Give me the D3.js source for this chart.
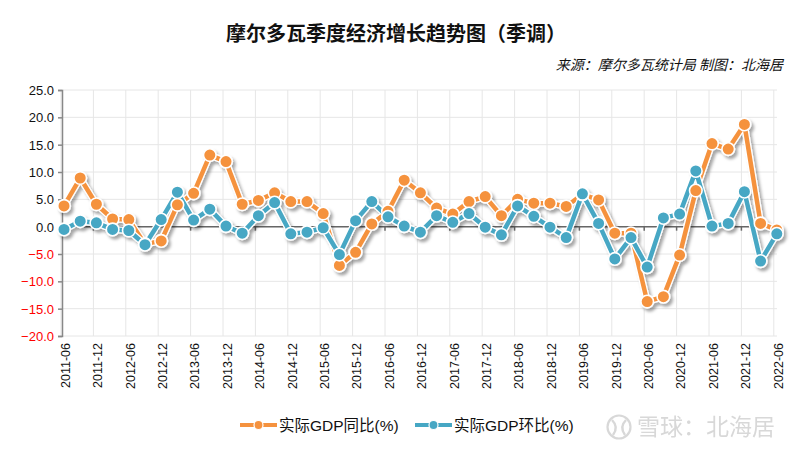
<!DOCTYPE html>
<html><head><meta charset="utf-8">
<script src="https://cdn.jsdelivr.net/npm/d3@7/dist/d3.min.js"></script>
<style>
body{margin:0;background:#fff;}
svg{display:block;font-family:"Liberation Sans",Arial,"Noto Sans CJK SC",sans-serif;}
</style></head>
<body><svg id="c" width="800" height="450"></svg>
<script>
const quarters = ["2011-06","2011-09","2011-12","2012-03","2012-06","2012-09","2012-12","2013-03","2013-06","2013-09","2013-12",
"2014-03","2014-06","2014-09","2014-12","2015-03","2015-06","2015-09","2015-12","2016-03","2016-06","2016-09","2016-12",
"2017-03","2017-06","2017-09","2017-12","2018-03","2018-06","2018-09","2018-12","2019-03","2019-06","2019-09","2019-12",
"2020-03","2020-06","2020-09","2020-12","2021-03","2021-06","2021-09","2021-12","2022-03","2022-06"];
const yoy = [3.8,8.9,4.1,1.4,1.3,-3.2,-2.6,4.0,6.1,13.1,11.9,4.1,4.8,6.2,4.6,4.6,2.4,-7.1,-4.7,0.5,2.8,8.5,6.2,3.4,2.3,4.6,5.5,2.0,5.0,4.3,4.3,3.7,5.9,4.9,-1.2,-1.2,-13.7,-12.8,-5.2,6.6,15.2,14.2,18.7,0.6,-0.6];
const qoq = [-0.5,1.0,0.7,-0.5,-0.7,-3.3,1.3,6.3,1.2,3.2,0.1,-1.2,2.0,4.4,-1.3,-1.0,-0.2,-5.1,1.1,4.6,1.8,0.1,-1.0,2.0,0.8,2.4,-0.1,-1.5,3.8,1.9,-0.1,-2.0,6.0,0.6,-5.9,-2.0,-7.4,1.6,2.3,10.2,0.1,0.6,6.4,-6.3,-1.3];
const tickLabels = ["2011-06","2011-12","2012-06","2012-12","2013-06","2013-12","2014-06","2014-12","2015-06","2015-12","2016-06","2016-12",
"2017-06","2017-12","2018-06","2018-12","2019-06","2019-12","2020-06","2020-12","2021-06","2021-12","2022-06"];
const yTicks = [25,20,15,10,5,0,-5,-10,-15,-20];
const seriesNames = ["实际GDP同比(%)","实际GDP环比(%)"];
const colors = ["#F5923E","#46A7C4"];
const title = "摩尔多瓦季度经济增长趋势图（季调）";
const source = "来源：摩尔多瓦统计局 制图：北海居";
const watermark = "雪球：北海居";

const svg = d3.select("#c");
const x = d3.scalePoint().domain(quarters).range([64, 776.8]);
const y = d3.scaleLinear().domain([-20, 25]).range([336, 90]);
const left = 62, right = 777;

const defs = svg.append("defs");
const f = defs.append("filter").attr("id","sh").attr("x","-10%").attr("y","-10%").attr("width","130%").attr("height","130%");
f.append("feDropShadow").attr("dx",2.5).attr("dy",3).attr("stdDeviation",1.6).attr("flood-color","#000").attr("flood-opacity",0.35);

// title & source
svg.append("text").attr("x",396).attr("y",41).attr("text-anchor","middle")
  .attr("font-family","'Noto Sans CJK SC',sans-serif").attr("font-weight",700).attr("font-size",20).attr("fill","#111").text(title);
svg.append("text").attr("x",783).attr("y",70).attr("text-anchor","end")
  .attr("font-family","'Noto Sans CJK SC',sans-serif").attr("font-style","italic").attr("font-size",14).attr("fill","#111")
  .attr("transform","").text(source);

// grid
const g = svg.append("g");
g.selectAll(".hg").data(yTicks).join("line")
  .attr("x1",left).attr("x2",right).attr("y1",d=>y(d)).attr("y2",d=>y(d))
  .attr("stroke","#e6e6e6").attr("stroke-width",1);
const gridQ = quarters.filter(q=>tickLabels.includes(q));
g.selectAll(".vg").data(gridQ).join("line")
  .attr("x1",d=>x(d)-3).attr("x2",d=>x(d)-3).attr("y1",y(25)).attr("y2",y(-20))
  .attr("stroke","#e6e6e6").attr("stroke-width",1);

// y axis
const yAxis = d3.axisLeft(y).tickValues(yTicks).tickFormat(d3.format(".1f")).tickSize(4).tickPadding(4);
const ya = svg.append("g").attr("transform",`translate(${left},0)`).call(yAxis);
ya.select(".domain").attr("stroke","#888").attr("stroke-width",1.5);
ya.selectAll(".tick line").attr("stroke","#888").attr("stroke-width",1.5);
ya.selectAll(".tick text").attr("font-size",13).attr("font-family","'Liberation Sans',Arial,sans-serif")
  .attr("fill",d=>d<0?"#ff0000":"#111").attr("dy","0.35em").text(d=>d3.format(".1f")(d));

// zero axis line with ticks
const za = svg.append("g").attr("transform",`translate(0,${y(0)})`)
  .call(d3.axisBottom(x).tickValues(gridQ).tickSize(4).tickFormat(""));
za.select(".domain").attr("stroke","#666").attr("stroke-width",1.5).attr("d",`M${left},0H${right}`);
za.selectAll(".tick").attr("transform",d=>`translate(${x(d)-3},0)`);
za.selectAll(".tick line").attr("stroke","#666").attr("stroke-width",1.5);

// x labels
const xa = svg.append("g").attr("transform",`translate(0,${y(-20)})`)
  .call(d3.axisBottom(x).tickValues(tickLabels).tickSize(0).tickPadding(0));
xa.select(".domain").remove();
xa.selectAll(".tick text").attr("font-size",12.5).attr("font-family","'Liberation Sans',Arial,sans-serif").attr("fill","#111")
  .attr("text-anchor","end").attr("transform","rotate(-90)").attr("x",-7).attr("y",1).attr("dy","0.35em");

// series
const series = [yoy, qoq];
const line = d3.line().x((d,i)=>x(quarters[i])).y(d=>y(d)).curve(d3.curveLinear);
const lg = svg.append("g").attr("filter","url(#sh)");
series.forEach((s,k)=>{
  lg.append("path").attr("d",line(s)).attr("fill","none").attr("stroke","#fff").attr("stroke-width",7).attr("stroke-linejoin","round");
  lg.append("path").attr("d",line(s)).attr("fill","none").attr("stroke",colors[k]).attr("stroke-width",4.5).attr("stroke-linejoin","round");
});
series.forEach((s,k)=>{
  lg.append("g").selectAll("circle").data(s).join("circle")
    .attr("cx",(d,i)=>x(quarters[i])).attr("cy",d=>y(d)).attr("r",6.3)
    .attr("fill",colors[k]).attr("stroke","#fff").attr("stroke-width",1.6);
});

// legend
const legX = [240, 415];
seriesNames.forEach((n,k)=>{
  const lgd = svg.append("g").attr("transform",`translate(${legX[k]},425)`);
  lgd.append("line").attr("x1",0).attr("x2",37).attr("y1",0).attr("y2",0).attr("stroke",colors[k]).attr("stroke-width",4);
  lgd.append("circle").attr("cx",18.5).attr("cy",0).attr("r",4.5).attr("fill",colors[k]).attr("stroke","#fff").attr("stroke-width",1.2);
  lgd.append("text").attr("x",39).attr("y",0).attr("dy","0.36em").attr("font-size",15.5)
    .attr("font-family","'Liberation Sans','Noto Sans CJK SC',sans-serif").attr("fill","#111").text(n);
});

// watermark
const wm = svg.append("g").attr("opacity",0.9);
wm.append("circle").attr("cx",619).attr("cy",427).attr("r",11.5).attr("fill","none").attr("stroke","#d4d4d4").attr("stroke-width",2.2);
wm.append("path").attr("d","M612,420 Q619,427 613,435 M626,420 Q619,427 625,435").attr("fill","none").attr("stroke","#d4d4d4").attr("stroke-width",2.4);
wm.append("text").attr("x",637).attr("y",427).attr("dy","0.36em").attr("font-size",23)
  .attr("font-family","'Noto Sans CJK SC',sans-serif").attr("fill","#d4d4d4").text(watermark);
</script></body></html>
